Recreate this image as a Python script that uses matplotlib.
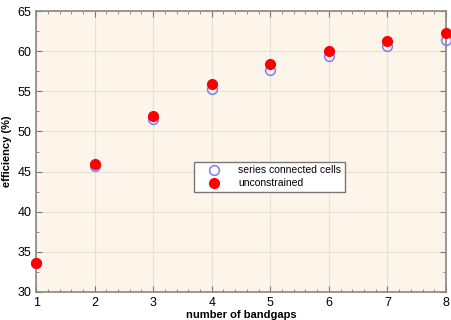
import matplotlib
matplotlib.use("Agg")
import matplotlib.pyplot as plt
from matplotlib.ticker import MultipleLocator

plt.rcParams['font.family'] = ['Liberation Sans', 'DejaVu Sans']

bandgaps = [1, 2, 3, 4, 5, 6, 7, 8]
series_cells = [33.6, 45.7, 51.6, 55.3, 57.6, 59.4, 60.7, 61.4]
unconstrained = [33.6, 46.0, 51.9, 55.9, 58.4, 60.0, 61.3, 62.3]

fig = plt.figure(figsize=(4.51, 3.2), dpi=100)
ax = fig.add_axes([0.08, 0.0875, 0.909, 0.878])
ax.set_facecolor('#FDF5E9')

ax.plot(bandgaps, series_cells, 'o', mfc='none', mec='#7B7BFF', mew=1.1, ms=7,
        label='series connected cells', clip_on=False, zorder=3)
ax.plot(bandgaps, unconstrained, 'o', mfc='#FF0000', mec='#FF0000', ms=7,
        label='unconstrained', clip_on=False, zorder=4)

ax.set_xlim(1, 8)
ax.set_ylim(30, 65)
ax.xaxis.set_major_locator(MultipleLocator(1))
ax.xaxis.set_minor_locator(MultipleLocator(0.2))
ax.yaxis.set_major_locator(MultipleLocator(5))
ax.yaxis.set_minor_locator(MultipleLocator(2.5))
ax.tick_params(which='both', direction='in', top=True, right=True, color='#777777',
               labelsize=9)
ax.tick_params(which='major', length=4)
ax.tick_params(which='minor', length=2)
ax.grid(True, which='major', color='#E8E0D4', linestyle='-', linewidth=0.8)
for s in ax.spines.values():
    s.set_color('#888888')
    s.set_linewidth(1.2)

ax.set_xlabel('number of bandgaps', fontsize=8, fontweight='bold', labelpad=1)
ax.set_ylabel('efficiency (%)', fontsize=8, fontweight='bold', labelpad=4)

leg = ax.legend(loc='lower left', bbox_to_anchor=(0.385, 0.356), fontsize=7.5,
                frameon=True, fancybox=False, framealpha=1, edgecolor='#777777',
                handlelength=3.2, handletextpad=0.7, borderpad=0.35,
                labelspacing=0.3, borderaxespad=0)
leg.get_frame().set_linewidth(1.0)

fig.savefig('out.png', dpi=100)
